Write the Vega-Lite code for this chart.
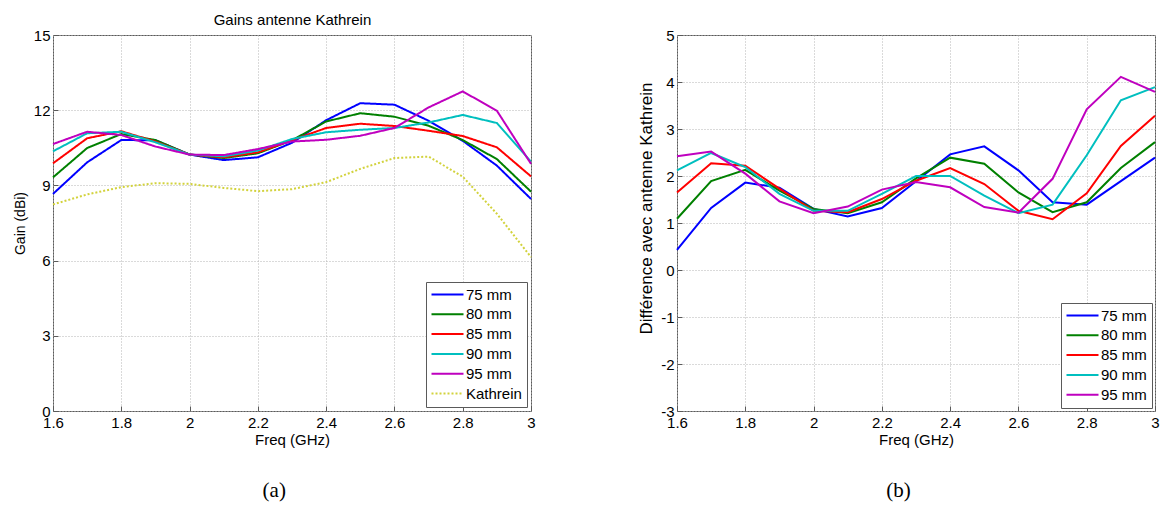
{
  "$schema": "https://vega.github.io/schema/vega-lite/v6.json",
  "padding": {"left": 12, "top": 11, "right": 2, "bottom": 0},
  "spacing": 146,
  "bounds": "flush",
  "datasets": {
    "gain": [
      {"f": 1.6, "s": "75 mm", "v": 8.66}, {"f": 1.7, "s": "75 mm", "v": 9.92}, {"f": 1.8, "s": "75 mm", "v": 10.81}, {"f": 1.9, "s": "75 mm", "v": 10.8}, {"f": 2.0, "s": "75 mm", "v": 10.23}, {"f": 2.1, "s": "75 mm", "v": 10.01}, {"f": 2.2, "s": "75 mm", "v": 10.12}, {"f": 2.3, "s": "75 mm", "v": 10.7}, {"f": 2.4, "s": "75 mm", "v": 11.6}, {"f": 2.5, "s": "75 mm", "v": 12.28}, {"f": 2.6, "s": "75 mm", "v": 12.22}, {"f": 2.7, "s": "75 mm", "v": 11.58}, {"f": 2.8, "s": "75 mm", "v": 10.78}, {"f": 2.9, "s": "75 mm", "v": 9.79}, {"f": 3.0, "s": "75 mm", "v": 8.46},
      {"f": 1.6, "s": "80 mm", "v": 9.32}, {"f": 1.7, "s": "80 mm", "v": 10.49}, {"f": 1.8, "s": "80 mm", "v": 11.05}, {"f": 1.9, "s": "80 mm", "v": 10.81}, {"f": 2.0, "s": "80 mm", "v": 10.23}, {"f": 2.1, "s": "80 mm", "v": 10.09}, {"f": 2.2, "s": "80 mm", "v": 10.28}, {"f": 2.3, "s": "80 mm", "v": 10.8}, {"f": 2.4, "s": "80 mm", "v": 11.55}, {"f": 2.5, "s": "80 mm", "v": 11.88}, {"f": 2.6, "s": "80 mm", "v": 11.74}, {"f": 2.7, "s": "80 mm", "v": 11.38}, {"f": 2.8, "s": "80 mm", "v": 10.81}, {"f": 2.9, "s": "80 mm", "v": 10.05}, {"f": 3.0, "s": "80 mm", "v": 8.75},
      {"f": 1.6, "s": "85 mm", "v": 9.88}, {"f": 1.7, "s": "85 mm", "v": 10.88}, {"f": 1.8, "s": "85 mm", "v": 11.16}, {"f": 1.9, "s": "85 mm", "v": 10.75}, {"f": 2.0, "s": "85 mm", "v": 10.23}, {"f": 2.1, "s": "85 mm", "v": 10.12}, {"f": 2.2, "s": "85 mm", "v": 10.32}, {"f": 2.3, "s": "85 mm", "v": 10.8}, {"f": 2.4, "s": "85 mm", "v": 11.29}, {"f": 2.5, "s": "85 mm", "v": 11.46}, {"f": 2.6, "s": "85 mm", "v": 11.37}, {"f": 2.7, "s": "85 mm", "v": 11.18}, {"f": 2.8, "s": "85 mm", "v": 10.97}, {"f": 2.9, "s": "85 mm", "v": 10.52}, {"f": 3.0, "s": "85 mm", "v": 9.36},
      {"f": 1.6, "s": "90 mm", "v": 10.36}, {"f": 1.7, "s": "90 mm", "v": 11.08}, {"f": 1.8, "s": "90 mm", "v": 11.14}, {"f": 1.9, "s": "90 mm", "v": 10.72}, {"f": 2.0, "s": "90 mm", "v": 10.23}, {"f": 2.1, "s": "90 mm", "v": 10.16}, {"f": 2.2, "s": "90 mm", "v": 10.39}, {"f": 2.3, "s": "90 mm", "v": 10.85}, {"f": 2.4, "s": "90 mm", "v": 11.12}, {"f": 2.5, "s": "90 mm", "v": 11.22}, {"f": 2.6, "s": "90 mm", "v": 11.29}, {"f": 2.7, "s": "90 mm", "v": 11.51}, {"f": 2.8, "s": "90 mm", "v": 11.81}, {"f": 2.9, "s": "90 mm", "v": 11.49}, {"f": 3.0, "s": "90 mm", "v": 9.95},
      {"f": 1.6, "s": "95 mm", "v": 10.65}, {"f": 1.7, "s": "95 mm", "v": 11.14}, {"f": 1.8, "s": "95 mm", "v": 11.01}, {"f": 1.9, "s": "95 mm", "v": 10.55}, {"f": 2.0, "s": "95 mm", "v": 10.23}, {"f": 2.1, "s": "95 mm", "v": 10.21}, {"f": 2.2, "s": "95 mm", "v": 10.45}, {"f": 2.3, "s": "95 mm", "v": 10.75}, {"f": 2.4, "s": "95 mm", "v": 10.82}, {"f": 2.5, "s": "95 mm", "v": 10.98}, {"f": 2.6, "s": "95 mm", "v": 11.29}, {"f": 2.7, "s": "95 mm", "v": 12.11}, {"f": 2.8, "s": "95 mm", "v": 12.75}, {"f": 2.9, "s": "95 mm", "v": 11.98}, {"f": 3.0, "s": "95 mm", "v": 9.86},
      {"f": 1.6, "s": "Kathrein", "v": 8.24}, {"f": 1.7, "s": "Kathrein", "v": 8.64}, {"f": 1.8, "s": "Kathrein", "v": 8.93}, {"f": 1.9, "s": "Kathrein", "v": 9.09}, {"f": 2.0, "s": "Kathrein", "v": 9.06}, {"f": 2.1, "s": "Kathrein", "v": 8.9}, {"f": 2.2, "s": "Kathrein", "v": 8.77}, {"f": 2.3, "s": "Kathrein", "v": 8.85}, {"f": 2.4, "s": "Kathrein", "v": 9.13}, {"f": 2.5, "s": "Kathrein", "v": 9.66}, {"f": 2.6, "s": "Kathrein", "v": 10.09}, {"f": 2.7, "s": "Kathrein", "v": 10.15}, {"f": 2.8, "s": "Kathrein", "v": 9.35}, {"f": 2.9, "s": "Kathrein", "v": 7.87}, {"f": 3.0, "s": "Kathrein", "v": 6.14}
    ],
    "diff": [
      {"f": 1.6, "s": "75 mm", "v": 0.43}, {"f": 1.7, "s": "75 mm", "v": 1.32}, {"f": 1.8, "s": "75 mm", "v": 1.86}, {"f": 1.9, "s": "75 mm", "v": 1.75}, {"f": 2.0, "s": "75 mm", "v": 1.3}, {"f": 2.1, "s": "75 mm", "v": 1.14}, {"f": 2.2, "s": "75 mm", "v": 1.32}, {"f": 2.3, "s": "75 mm", "v": 1.89}, {"f": 2.4, "s": "75 mm", "v": 2.46}, {"f": 2.5, "s": "75 mm", "v": 2.63}, {"f": 2.6, "s": "75 mm", "v": 2.12}, {"f": 2.7, "s": "75 mm", "v": 1.44}, {"f": 2.8, "s": "75 mm", "v": 1.39}, {"f": 2.9, "s": "75 mm", "v": 1.89}, {"f": 3.0, "s": "75 mm", "v": 2.39},
      {"f": 1.6, "s": "80 mm", "v": 1.09}, {"f": 1.7, "s": "80 mm", "v": 1.89}, {"f": 1.8, "s": "80 mm", "v": 2.13}, {"f": 1.9, "s": "80 mm", "v": 1.69}, {"f": 2.0, "s": "80 mm", "v": 1.3}, {"f": 2.1, "s": "80 mm", "v": 1.21}, {"f": 2.2, "s": "80 mm", "v": 1.44}, {"f": 2.3, "s": "80 mm", "v": 1.95}, {"f": 2.4, "s": "80 mm", "v": 2.39}, {"f": 2.5, "s": "80 mm", "v": 2.26}, {"f": 2.6, "s": "80 mm", "v": 1.65}, {"f": 2.7, "s": "80 mm", "v": 1.23}, {"f": 2.8, "s": "80 mm", "v": 1.44}, {"f": 2.9, "s": "80 mm", "v": 2.17}, {"f": 3.0, "s": "80 mm", "v": 2.72},
      {"f": 1.6, "s": "85 mm", "v": 1.65}, {"f": 1.7, "s": "85 mm", "v": 2.27}, {"f": 1.8, "s": "85 mm", "v": 2.22}, {"f": 1.9, "s": "85 mm", "v": 1.73}, {"f": 2.0, "s": "85 mm", "v": 1.26}, {"f": 2.1, "s": "85 mm", "v": 1.23}, {"f": 2.2, "s": "85 mm", "v": 1.51}, {"f": 2.3, "s": "85 mm", "v": 1.9}, {"f": 2.4, "s": "85 mm", "v": 2.17}, {"f": 2.5, "s": "85 mm", "v": 1.83}, {"f": 2.6, "s": "85 mm", "v": 1.26}, {"f": 2.7, "s": "85 mm", "v": 1.08}, {"f": 2.8, "s": "85 mm", "v": 1.63}, {"f": 2.9, "s": "85 mm", "v": 2.64}, {"f": 3.0, "s": "85 mm", "v": 3.28},
      {"f": 1.6, "s": "90 mm", "v": 2.12}, {"f": 1.7, "s": "90 mm", "v": 2.49}, {"f": 1.8, "s": "90 mm", "v": 2.19}, {"f": 1.9, "s": "90 mm", "v": 1.62}, {"f": 2.0, "s": "90 mm", "v": 1.26}, {"f": 2.1, "s": "90 mm", "v": 1.26}, {"f": 2.2, "s": "90 mm", "v": 1.62}, {"f": 2.3, "s": "90 mm", "v": 2.0}, {"f": 2.4, "s": "90 mm", "v": 2.0}, {"f": 2.5, "s": "90 mm", "v": 1.58}, {"f": 2.6, "s": "90 mm", "v": 1.21}, {"f": 2.7, "s": "90 mm", "v": 1.39}, {"f": 2.8, "s": "90 mm", "v": 2.44}, {"f": 2.9, "s": "90 mm", "v": 3.61}, {"f": 3.0, "s": "90 mm", "v": 3.89},
      {"f": 1.6, "s": "95 mm", "v": 2.42}, {"f": 1.7, "s": "95 mm", "v": 2.52}, {"f": 1.8, "s": "95 mm", "v": 2.05}, {"f": 1.9, "s": "95 mm", "v": 1.46}, {"f": 2.0, "s": "95 mm", "v": 1.21}, {"f": 2.1, "s": "95 mm", "v": 1.35}, {"f": 2.2, "s": "95 mm", "v": 1.71}, {"f": 2.3, "s": "95 mm", "v": 1.87}, {"f": 2.4, "s": "95 mm", "v": 1.76}, {"f": 2.5, "s": "95 mm", "v": 1.34}, {"f": 2.6, "s": "95 mm", "v": 1.22}, {"f": 2.7, "s": "95 mm", "v": 1.94}, {"f": 2.8, "s": "95 mm", "v": 3.42}, {"f": 2.9, "s": "95 mm", "v": 4.11}, {"f": 3.0, "s": "95 mm", "v": 3.79}
    ]
  },
  "resolve": {
    "scale": {"color": "independent", "strokeDash": "independent", "x": "independent", "y": "independent"},
    "legend": {"color": "independent", "strokeDash": "independent"}
  },
  "hconcat": [
    {
      "title": {"text": "(a)", "orient": "bottom", "font": "Liberation Serif", "fontSize": 21, "offset": 33, "frame": "bounds"},
      "width": 478,
      "height": 376,
      "data": {"name": "gain"},
      "resolve": {"axis": {"x": "independent"}},
      "layer": [
        {
          "mark": {"type": "line", "strokeWidth": 2},
          "encoding": {
            "x": {"field": "f", "type": "quantitative", "scale": {"domain": [1.6, 3], "nice": false, "zero": false},
                  "axis": {"values": [1.6, 1.8, 2, 2.2, 2.4, 2.6, 2.8, 3], "format": "~g", "title": "Freq (GHz)"}},
            "y": {"field": "v", "type": "quantitative", "scale": {"domain": [0, 15], "nice": false},
                  "axis": {"values": [0, 3, 6, 9, 12, 15], "title": "Gain (dBi)", "titleFontSize": 14}},
            "color": {"field": "s", "type": "nominal",
                      "scale": {"domain": ["75 mm", "80 mm", "85 mm", "90 mm", "95 mm", "Kathrein"], "range": ["#0000ff", "#008000", "#ff0000", "#00bfbf", "#bf00bf", "#d2d23c"]},
                      "legend": {"title": null}},
            "strokeDash": {"field": "s", "type": "nominal",
                      "scale": {"domain": ["75 mm", "80 mm", "85 mm", "90 mm", "95 mm", "Kathrein"], "range": [[1, 0], [1, 0], [1, 0], [1, 0], [1, 0], [2, 2]]},
                      "legend": {"title": null}}
          }
        },
        {
          "mark": {"type": "line", "opacity": 0},
          "encoding": {
            "x": {"field": "f", "type": "quantitative",
                  "axis": {"orient": "top", "title": "Gains antenne Kathrein", "labels": false, "grid": false, "ticks": false, "domain": false, "titlePadding": 8, "titleFontSize": 15}},
            "y": {"field": "v", "type": "quantitative"}
          }
        }
      ]
    },
    {
      "title": {"text": "(b)", "orient": "bottom", "font": "Liberation Serif", "fontSize": 21, "offset": 33, "frame": "bounds"},
      "width": 478,
      "height": 376,
      "data": {"name": "diff"},
      "mark": {"type": "line", "strokeWidth": 2},
      "encoding": {
        "x": {"field": "f", "type": "quantitative", "scale": {"domain": [1.6, 3], "nice": false, "zero": false},
              "axis": {"values": [1.6, 1.8, 2, 2.2, 2.4, 2.6, 2.8, 3], "format": "~g", "title": "Freq (GHz)"}},
        "y": {"field": "v", "type": "quantitative", "scale": {"domain": [-3, 5], "nice": false, "zero": false},
              "axis": {"values": [-3, -2, -1, 0, 1, 2, 3, 4, 5], "labelExpr": "'' + datum.value", "title": "Différence avec antenne Kathrein", "titleFontSize": 17, "titlePadding": 5, "titleY": 173}},
        "color": {"field": "s", "type": "nominal",
                  "scale": {"domain": ["75 mm", "80 mm", "85 mm", "90 mm", "95 mm"], "range": ["#0000ff", "#008000", "#ff0000", "#00bfbf", "#bf00bf"]},
                  "legend": {"title": null, "offset": 3}}
      }
    }
  ],
  "config": {
    "font": "Liberation Sans",
    "view": {"stroke": "#5a5a5a", "strokeWidth": 1},
    "axis": {
      "grid": true, "gridColor": "#b4b4b4", "gridDash": [1, 2], "gridWidth": 1,
      "domain": false, "ticks": true, "tickSize": -5, "tickColor": "#5a5a5a", "tickWidth": 1,
      "labelFont": "Liberation Sans", "labelFontSize": 15, "labelColor": "#000", "labelPadding": 8, "labelFlush": false,
      "titleFont": "Liberation Sans", "titleFontSize": 15, "titleFontWeight": "normal", "titleColor": "#000"
    },
    "axisX": {"titlePadding": 2, "labelPadding": 9},
    "axisY": {"titlePadding": 6},
    "title": {"font": "Liberation Sans", "fontSize": 15, "fontWeight": "normal", "color": "#000"},
    "legend": {
      "orient": "bottom-right", "offset": 4,
      "fillColor": "#ffffff", "strokeColor": "#5a5a5a", "padding": 5, "rowPadding": 3.8,
      "labelFont": "Liberation Sans", "labelFontSize": 15, "labelColor": "#000", "labelLimit": 300, "labelOffset": 27,
      "symbolType": "M0,0H16", "symbolSize": 16, "symbolStrokeWidth": 2, "symbolOffset": -7
    }
  }
}
